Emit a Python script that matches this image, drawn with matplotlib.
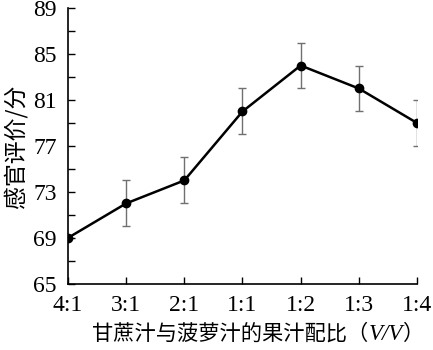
import matplotlib
matplotlib.use('Agg')
import matplotlib.pyplot as plt
from matplotlib.ticker import FixedLocator

plt.rcParams['font.family'] = ['Liberation Serif', 'Noto Sans CJK SC']

ratios = ['4:1', '3:1', '2:1', '1:1', '1:2', '1:3', '1:4']
scores = [69, 72, 74, 80, 84, 82, 79]
errors = [0, 2, 2, 2, 2, 2, 2]
y_major = [65, 69, 73, 77, 81, 85, 89]
y_minor = [67, 71, 75, 79, 83, 87]

fig = plt.figure(figsize=(4.33, 3.5), dpi=100)
ax = fig.add_axes([0.157, 0.189, 0.806, 0.788])

x = list(range(len(ratios)))
ax.errorbar(x, scores, yerr=errors, fmt='none', ecolor='#707070',
            elinewidth=1, capsize=3, capthick=1, zorder=2)
ax.plot(x, scores, color='black', linewidth=1.8, marker='o',
        markersize=6, zorder=3)

ax.set_xlim(0, len(ratios) - 1)
ax.set_ylim(65, 89)
ax.set_xticks(x)
ax.set_xticklabels(ratios)
ax.yaxis.set_major_locator(FixedLocator(y_major))
ax.yaxis.set_minor_locator(FixedLocator(y_minor))

ax.spines['top'].set_visible(False)
ax.spines['right'].set_visible(False)
for s in ['left', 'bottom']:
    ax.spines[s].set_linewidth(1.2)

ax.tick_params(axis='both', which='both', direction='in', length=5,
               width=1, labelsize=17, pad=8)

ax.set_ylabel('感官评价/分', fontsize=16.5, family=['Noto Sans CJK SC'], labelpad=4)

t1 = fig.text(0.213, 0.03, '甘蔗汁与菠萝汁的果汁配比（', fontsize=15.3,
              family=['Noto Sans CJK SC'], va='baseline')
t2 = ax.annotate('V/V', xy=(1, 0), xycoords=t1, va='bottom', ha='left',
                 fontsize=16.5, style='italic', family=['Liberation Serif'],
                 annotation_clip=False)
t3 = ax.annotate('）', xy=(1, 0), xycoords=t2, va='bottom', ha='left',
                 fontsize=15.3, family=['Noto Sans CJK SC'],
                 annotation_clip=False)

fig.savefig('out.png', dpi=100, facecolor='white')
